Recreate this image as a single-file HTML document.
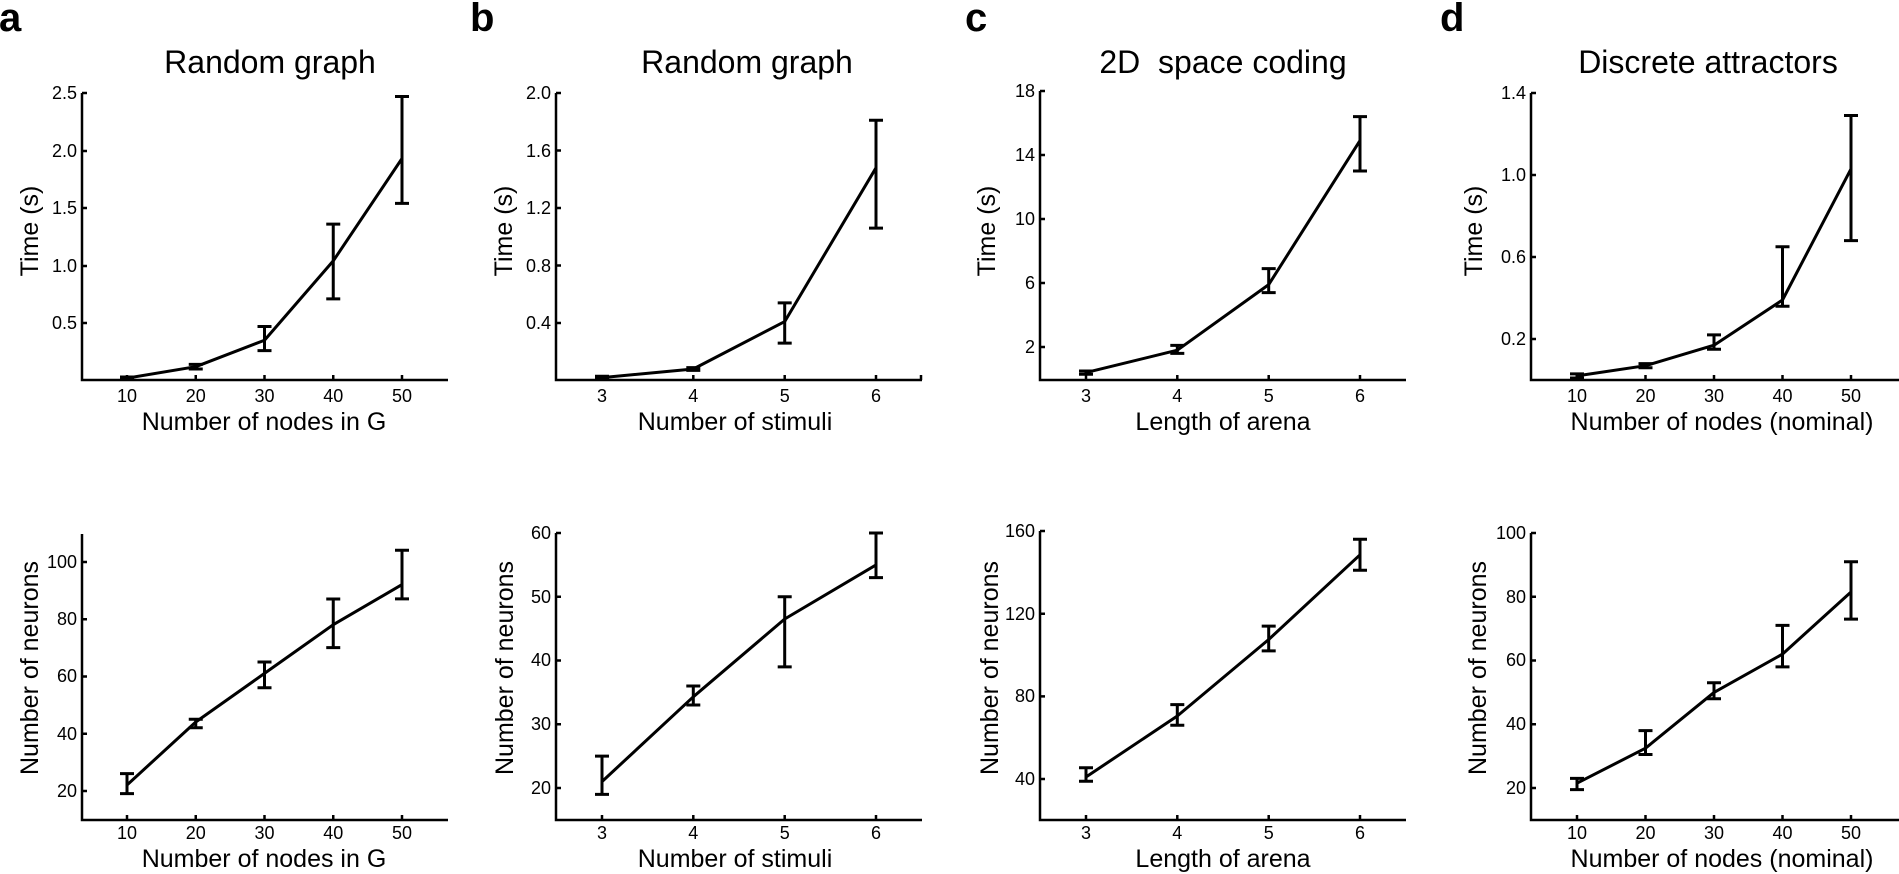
<!DOCTYPE html>
<html><head><meta charset="utf-8"><style>
html,body{margin:0;padding:0;background:#fff;}
svg{display:block;font-family:"Liberation Sans",Arial,sans-serif;}
.tk{font-size:18px;}
.lb{font-size:25px;}
.tt{font-size:32px;}
.lt{font-size:40px;font-weight:bold;}
.ax{stroke:#000;stroke-width:2.5;fill:none;}
.dl{stroke:#000;stroke-width:3;fill:none;stroke-linejoin:round;}
.eb{stroke:#000;stroke-width:3;fill:none;}
</style></head><body>
<svg width="1899" height="874" viewBox="0 0 1899 874" xmlns="http://www.w3.org/2000/svg">
<text class="lt" x="-1" y="31">a</text>
<text class="lt" x="470" y="31">b</text>
<text class="lt" x="965" y="31">c</text>
<text class="lt" x="1440" y="31">d</text>
<g class="tt" text-anchor="middle">
<text x="270" y="73">Random graph</text>
<text x="747" y="73">Random graph</text>
<text x="1223" y="73">2D&#160; space coding</text>
<text x="1708" y="73">Discrete attractors</text>
</g>

<path class="ax" d="M82,93 V380 H448"/>
<path class="ax" d="M82,93 h5 M82,151 h5 M82,208 h5 M82,266 h5 M82,323 h5 M127,380 v-5 M195.75,380 v-5 M264.5,380 v-5 M333.25,380 v-5 M402,380 v-5"/>
<g class="tk" text-anchor="end">
<text x="77" y="99">2.5</text><text x="77" y="157">2.0</text><text x="77" y="214">1.5</text><text x="77" y="272">1.0</text><text x="77" y="329">0.5</text>
</g>
<g class="tk" text-anchor="middle">
<text x="127" y="402">10</text><text x="195.75" y="402">20</text><text x="264.5" y="402">30</text><text x="333.25" y="402">40</text><text x="402" y="402">50</text>
</g>
<text class="lb" x="264" y="430" text-anchor="middle">Number of nodes in G</text>
<text class="lb" transform="translate(38,231) rotate(-90)" text-anchor="middle">Time (s)</text>
<polyline class="dl" points="127,378.2 195.75,366.7 264.5,340.25 333.25,260.9 402,158.5"/>
<path class="eb" d="M127,379.3V377M120,379.3h14M120,377h14 M195.75,369V364.4M188.75,369h14M188.75,364.4h14 M264.5,350.6V326.45M257.5,350.6h14M257.5,326.45h14 M333.25,298.9V224.1M326.25,298.9h14M326.25,224.1h14 M402,203.4V96.5M395,203.4h14M395,96.5h14"/>

<path class="ax" d="M82,534 V820 H448"/>
<path class="ax" d="M82,562 h5 M82,619.25 h5 M82,676.5 h5 M82,733.75 h5 M82,791 h5 M127,820 v-5 M195.75,820 v-5 M264.5,820 v-5 M333.25,820 v-5 M402,820 v-5"/>
<g class="tk" text-anchor="end">
<text x="77" y="568">100</text><text x="77" y="625">80</text><text x="77" y="682">60</text><text x="77" y="740">40</text><text x="77" y="797">20</text>
</g>
<g class="tk" text-anchor="middle">
<text x="127" y="839">10</text><text x="195.75" y="839">20</text><text x="264.5" y="839">30</text><text x="333.25" y="839">40</text><text x="402" y="839">50</text>
</g>
<text class="lb" x="264" y="867" text-anchor="middle">Number of nodes in G</text>
<text class="lb" transform="translate(38,668) rotate(-90)" text-anchor="middle">Number of neurons</text>
<polyline class="dl" points="127,785 195.75,722 264.5,673.4 333.25,624.7 402,584.6"/>
<path class="eb" d="M127,793.6V773.6M120,793.6h14M120,773.6h14 M195.75,727.8V719.2M188.75,727.8h14M188.75,719.2h14 M264.5,687.7V662M257.5,687.7h14M257.5,662h14 M333.25,647.6V599M326.25,647.6h14M326.25,599h14 M402,598.9V550.3M395,598.9h14M395,550.3h14"/>

<path class="ax" d="M556,93 V380 H922"/>
<path class="ax" d="M556,93 h5 M556,150.5 h5 M556,208 h5 M556,265.5 h5 M556,323 h5 M602,380 v-5 M693.3,380 v-5 M784.7,380 v-5 M876,380 v-5 M921,380 v-5"/>
<g class="tk" text-anchor="end">
<text x="551" y="99">2.0</text><text x="551" y="157">1.6</text><text x="551" y="214">1.2</text><text x="551" y="272">0.8</text><text x="551" y="329">0.4</text>
</g>
<g class="tk" text-anchor="middle">
<text x="602" y="402">3</text><text x="693.3" y="402">4</text><text x="784.7" y="402">5</text><text x="876" y="402">6</text>
</g>
<text class="lb" x="735" y="430" text-anchor="middle">Number of stimuli</text>
<text class="lb" transform="translate(512,231) rotate(-90)" text-anchor="middle">Time (s)</text>
<polyline class="dl" points="602,377.6 693.3,369 784.7,321.6 876,167.8"/>
<path class="eb" d="M602,379V376.2M595,379h14M595,376.2h14 M693.3,370.4V367.6M686.3,370.4h14M686.3,367.6h14 M784.7,343.1V302.9M777.7,343.1h14M777.7,302.9h14 M876,228.1V120.3M869,228.1h14M869,120.3h14"/>

<path class="ax" d="M556,533 V820 H922"/>
<path class="ax" d="M556,533 h5 M556,596.75 h5 M556,660.5 h5 M556,724.25 h5 M556,788 h5 M602,820 v-5 M693.3,820 v-5 M784.7,820 v-5 M876,820 v-5"/>
<g class="tk" text-anchor="end">
<text x="551" y="539">60</text><text x="551" y="603">50</text><text x="551" y="666">40</text><text x="551" y="730">30</text><text x="551" y="794">20</text>
</g>
<g class="tk" text-anchor="middle">
<text x="602" y="839">3</text><text x="693.3" y="839">4</text><text x="784.7" y="839">5</text><text x="876" y="839">6</text>
</g>
<text class="lb" x="735" y="867" text-anchor="middle">Number of stimuli</text>
<text class="lb" transform="translate(513,668) rotate(-90)" text-anchor="middle">Number of neurons</text>
<polyline class="dl" points="602,781.6 693.3,696.8 784.7,619 876,564.9"/>
<path class="eb" d="M602,794.4V756.1M595,794.4h14M595,756.1h14 M693.3,705V686M686.3,705h14M686.3,686h14 M784.7,666.9V596.75M777.7,666.9h14M777.7,596.75h14 M876,577.6V533M869,577.6h14M869,533h14"/>

<path class="ax" d="M1040,91 V380 H1406"/>
<path class="ax" d="M1040,91 h5 M1040,155 h5 M1040,219 h5 M1040,283 h5 M1040,347 h5 M1086,380 v-5 M1177.3,380 v-5 M1268.7,380 v-5 M1360,380 v-5"/>
<g class="tk" text-anchor="end">
<text x="1035" y="97">18</text><text x="1035" y="161">14</text><text x="1035" y="225">10</text><text x="1035" y="289">6</text><text x="1035" y="353">2</text>
</g>
<g class="tk" text-anchor="middle">
<text x="1086" y="402">3</text><text x="1177.3" y="402">4</text><text x="1268.7" y="402">5</text><text x="1360" y="402">6</text>
</g>
<text class="lb" x="1223" y="430" text-anchor="middle">Length of arena</text>
<text class="lb" transform="translate(995,231) rotate(-90)" text-anchor="middle">Time (s)</text>
<polyline class="dl" points="1086,372.6 1177.3,350.2 1268.7,284.6 1360,140.6"/>
<path class="eb" d="M1086,374.2V371M1079,374.2h14M1079,371h14 M1177.3,353.4V345.4M1170.3,353.4h14M1170.3,345.4h14 M1268.7,292.6V268.6M1261.7,292.6h14M1261.7,268.6h14 M1360,171V116.6M1353,171h14M1353,116.6h14"/>

<path class="ax" d="M1040,531 V820 H1406"/>
<path class="ax" d="M1040,531 h5 M1040,613.7 h5 M1040,696.4 h5 M1040,779 h5 M1086,820 v-5 M1177.3,820 v-5 M1268.7,820 v-5 M1360,820 v-5"/>
<g class="tk" text-anchor="end">
<text x="1035" y="537">160</text><text x="1035" y="620">120</text><text x="1035" y="702">80</text><text x="1035" y="785">40</text>
</g>
<g class="tk" text-anchor="middle">
<text x="1086" y="839">3</text><text x="1177.3" y="839">4</text><text x="1268.7" y="839">5</text><text x="1360" y="839">6</text>
</g>
<text class="lb" x="1223" y="867" text-anchor="middle">Length of arena</text>
<text class="lb" transform="translate(998,668) rotate(-90)" text-anchor="middle">Number of neurons</text>
<polyline class="dl" points="1086,777 1177.3,716 1268.7,639.5 1360,554.8"/>
<path class="eb" d="M1086,781.2V767.8M1079,781.2h14M1079,767.8h14 M1177.3,725.3V704.6M1170.3,725.3h14M1170.3,704.6h14 M1268.7,650.9V626.1M1261.7,650.9h14M1261.7,626.1h14 M1360,570.3V539.3M1353,570.3h14M1353,539.3h14"/>

<path class="ax" d="M1531,93 V380 H1899"/>
<path class="ax" d="M1531,93 h5 M1531,175 h5 M1531,257 h5 M1531,339 h5 M1577,380 v-5 M1645.5,380 v-5 M1714,380 v-5 M1782.5,380 v-5 M1851,380 v-5"/>
<g class="tk" text-anchor="end">
<text x="1526" y="99">1.4</text><text x="1526" y="181">1.0</text><text x="1526" y="263">0.6</text><text x="1526" y="345">0.2</text>
</g>
<g class="tk" text-anchor="middle">
<text x="1577" y="402">10</text><text x="1645.5" y="402">20</text><text x="1714" y="402">30</text><text x="1782.5" y="402">40</text><text x="1851" y="402">50</text>
</g>
<text class="lb" x="1722" y="430" text-anchor="middle">Number of nodes (nominal)</text>
<text class="lb" transform="translate(1482,231) rotate(-90)" text-anchor="middle">Time (s)</text>
<polyline class="dl" points="1577,375.9 1645.5,365.7 1714,345.2 1782.5,300 1851,168.9"/>
<path class="eb" d="M1577,378V373.9M1570,378h14M1570,373.9h14 M1645.5,367.7V363.6M1638.5,367.7h14M1638.5,363.6h14 M1714,349.25V334.9M1707,349.25h14M1707,334.9h14 M1782.5,306.2V246.75M1775.5,306.2h14M1775.5,246.75h14 M1851,240.6V115.5M1844,240.6h14M1844,115.5h14"/>

<path class="ax" d="M1531,533 V820 H1899"/>
<path class="ax" d="M1531,533 h5 M1531,596.75 h5 M1531,660.5 h5 M1531,724.25 h5 M1531,788 h5 M1577,820 v-5 M1645.5,820 v-5 M1714,820 v-5 M1782.5,820 v-5 M1851,820 v-5"/>
<g class="tk" text-anchor="end">
<text x="1526" y="539">100</text><text x="1526" y="603">80</text><text x="1526" y="666">60</text><text x="1526" y="730">40</text><text x="1526" y="794">20</text>
</g>
<g class="tk" text-anchor="middle">
<text x="1577" y="839">10</text><text x="1645.5" y="839">20</text><text x="1714" y="839">30</text><text x="1782.5" y="839">40</text><text x="1851" y="839">50</text>
</g>
<text class="lb" x="1722" y="867" text-anchor="middle">Number of nodes (nominal)</text>
<text class="lb" transform="translate(1486,668) rotate(-90)" text-anchor="middle">Number of neurons</text>
<polyline class="dl" points="1577,783.2 1645.5,748.2 1714,692.4 1782.5,654.1 1851,592"/>
<path class="eb" d="M1577,789.6V778.4M1570,789.6h14M1570,778.4h14 M1645.5,754.5V730.6M1638.5,754.5h14M1638.5,730.6h14 M1714,698.75V682.8M1707,698.75h14M1707,682.8h14 M1782.5,666.9V625.4M1775.5,666.9h14M1775.5,625.4h14 M1851,619.1V561.7M1844,619.1h14M1844,561.7h14"/>
</svg>
</body></html>
